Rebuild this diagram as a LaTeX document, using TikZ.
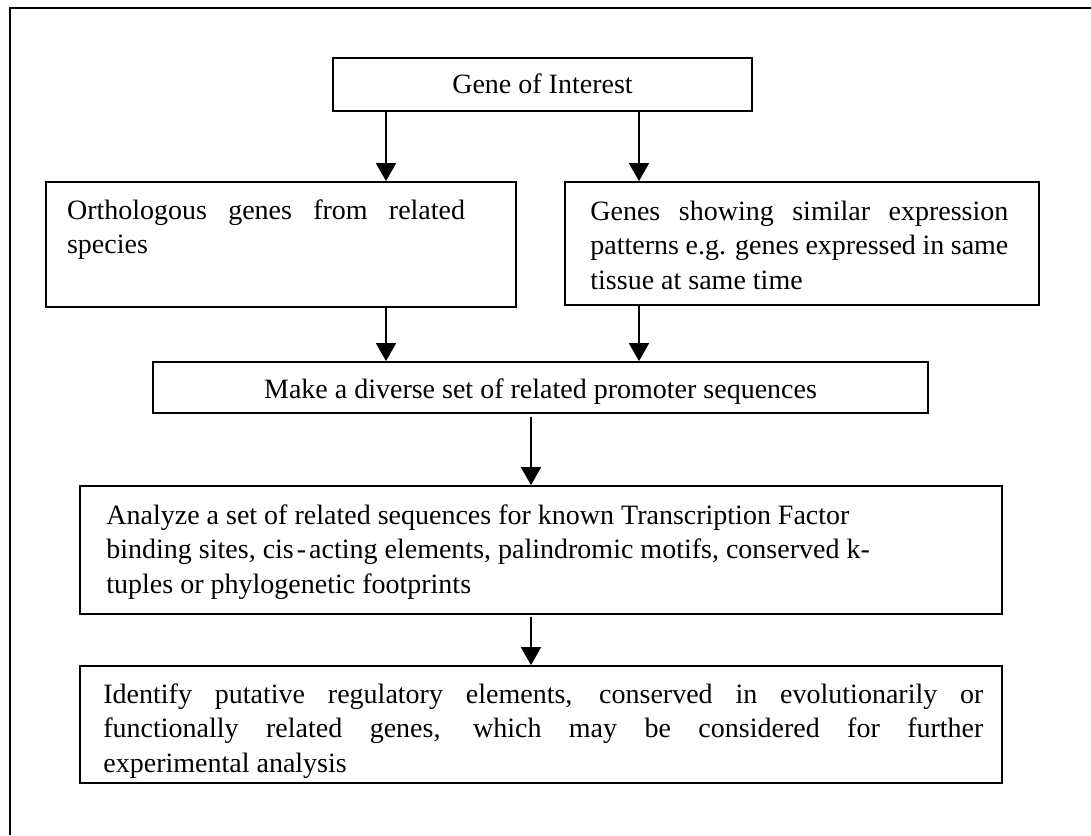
\documentclass[tikz,border=0pt]{standalone}
\usepackage{fontspec}
\setmainfont{Liberation Serif}
\usetikzlibrary{arrows.meta,fit}
\tikzset{
  box/.style={draw, line width=0.9pt, inner sep=0pt, rectangle},
  txt/.style={inner sep=0pt, anchor=base west},
  ctxt/.style={inner sep=0pt, anchor=base},
  arr/.style={-{Triangle[width=10pt,length=9pt]}, line width=0.9pt},
  frame/.style={line width=1.1pt},
}
\begin{document}
\begin{tikzpicture}[x=0.5pt, y=-0.5pt, font=\fontsize{14pt}{17.25pt}\selectfont]
\useasboundingbox (0,0) rectangle (1091,835);
\fill[white] (0,0) rectangle (1091,835);
\draw[frame] (10,835) -- (10,8) -- (1091,8);

\node[box, fit={(333,58) (752,111)}] (gene) {};
\node[box, fit={(45.7,182) (515.7,307)}] (orth) {};
\node[box, fit={(565,182) (1039,305)}] (genes) {};
\node[box, fit={(153,362) (928,413)}] (make) {};
\node[box, fit={(80,486) (1002,614)}] (analyze) {};
\node[box, fit={(80,666) (1002,783)}] (identify) {};

\node[ctxt] (genetxt) at (542.5,93) {Gene of Interest};
\node[ctxt] (maketxt) at (540.5,398) {Make a diverse set of related promoter sequences};
\node[txt] (orthtxt) at (66.7,219) {\parbox[t]{199pt}{\makebox[199pt][s]{Orthologous genes from related}\\species}};
\node[txt] (genestxt) at (590,220) {\parbox[t]{209pt}{\makebox[209pt][s]{Genes showing similar expression}\\\makebox[209pt][s]{patterns e.g. genes expressed in same}\\tissue at same time}};
\node[txt] (analyzetxt) at (106,524) {\parbox[t]{440pt}{\raggedright Analyze a set of related sequences for known Transcription Factor\\binding sites, cis\kern1.5pt-\kern1.5pt acting elements, palindromic motifs, conserved k-\\tuples or phylogenetic footprints}};
\node[txt] (identifytxt) at (103,703) {\parbox[t]{440pt}{\makebox[440pt][s]{Identify putative regulatory elements, conserved in evolutionarily or}\\\makebox[440pt][s]{functionally related genes, which may be considered for further}\\experimental analysis}};

\coordinate (xa) at (386,0);
\coordinate (xb) at (639,0);
\coordinate (xc) at (531,0);
\draw[arr] (gene.south -| xa) -- (orth.north -| xa);
\draw[arr] (gene.south -| xb) -- (genes.north -| xb);
\draw[arr] (orth.south -| xa) -- (make.north -| xa);
\draw[arr] (genes.south -| xb) -- (make.north -| xb);
\draw[arr, shorten <=1.5pt] (make.south -| xc) -- (analyze.north -| xc);
\draw[arr, shorten <=1pt] (analyze.south -| xc) -- (identify.north -| xc);
\end{tikzpicture}
\end{document}
